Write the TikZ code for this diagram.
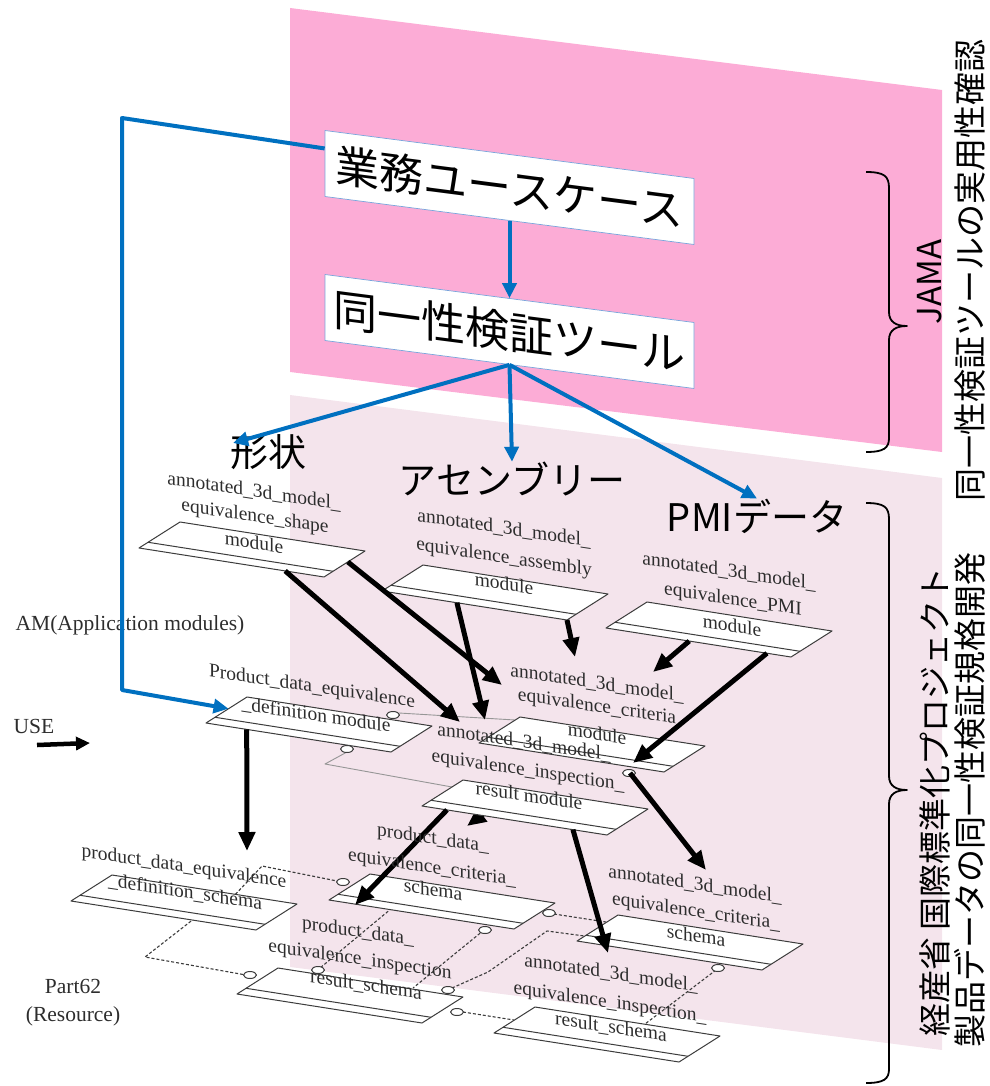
\documentclass[tikz,border=0pt]{standalone}
\usepackage{fontspec}
\usetikzlibrary{arrows.meta,calc}
\newfontfamily\jpfont{Noto Sans CJK JP}
\newfontfamily\tmsfont{Liberation Serif}
\definecolor{pinkA}{RGB}{252,172,214}
\definecolor{pinkB}{RGB}{244,228,236}
\definecolor{blueA}{RGB}{0,112,192}
\definecolor{boxedge}{RGB}{120,165,220}
\definecolor{txtgray}{RGB}{45,45,45}
\definecolor{lngray}{RGB}{60,60,60}
\definecolor{fgray}{RGB}{150,150,150}
\tikzset{
  slab/.style={draw=lngray,line width=1pt,fill=white},
  slabin/.style={draw=lngray,line width=1pt},
  dsh/.style={draw=lngray,line width=1.1pt,dash pattern=on 3pt off 2pt},
  faint/.style={draw=fgray,line width=0.9pt},
  ell/.style={draw=lngray,line width=1pt,fill=white},
  blk/.style={draw=black,line width=5pt,-{Triangle[length=19pt,width=16pt]}},
  blu/.style={draw=blueA,line width=4pt,-{Triangle[length=15pt,width=14pt]}},
  mt/.style={font=\tmsfont\fontsize{19.5}{22}\selectfont,text=txtgray,yslant=-0.15,anchor=base,inner sep=0pt},
  bbox/.style={draw=boxedge,line width=0.7pt,fill=white,minimum width=369pt,minimum height=66pt,inner sep=0pt,yslant=-0.13,font=\jpfont\fontsize{44}{44}\selectfont},
  jl/.style={font=\jpfont\fontsize{38}{38}\selectfont,inner sep=0pt},
  rt/.style={font=\jpfont\fontsize{33}{33}\selectfont,inner sep=0pt,rotate=90},
  serif/.style={font=\tmsfont\fontsize{21.5}{28}\selectfont,text=txtgray,inner sep=0pt,align=center},
  brc/.style={draw=black,line width=1.8pt}
}
\newcommand\slabbox[3]{%
  \path (#2,#3) coordinate (#1-tl) ++(185,29) coordinate (#1-tr) ++(-41,26) coordinate (#1-br) ++(-185,-29) coordinate (#1-bl);
  \draw[slab] (#1-tl) -- (#1-tr) -- (#1-br) -- (#1-bl) -- cycle;
  \draw[slabin] ($(#1-tl)!0.78!(#1-bl)$) -- ($(#1-tr)!0.78!(#1-br)$);
}
\begin{document}
\begin{tikzpicture}[x=1pt,y=-1pt,line join=round]
\useasboundingbox (0,0) rectangle (989,1086);
% planes
\fill[pinkA] (290,8) -- (942,90) -- (942,452) -- (290,372) -- cycle;
\fill[pinkB] (290,395) -- (942,478) -- (942,1050) -- (290,967) -- cycle;
% faint interface lines
\draw[faint] (399,713) -- (515,720);
\draw[faint] (347,752) -- (325,764) -- (452,787);
% dashed schema links
\draw[dsh] (232,898) -- (262,866) -- (337,881);
\draw[dsh] (195,918) -- (145,957) -- (246,975);
\draw[dsh] (392,908) -- (320,968);
\draw[dsh] (484,930) -- (413,988);
\draw[dsh] (554,914) -- (606,922);
\draw[dsh] (716,970) -- (645,1024);
\draw[dsh] (452,988) -- (488,972) -- (547,931) -- (592,937);
\draw[dsh] (463,1012) -- (514,1020);
% hidden small arrow
\coordinate (t9) at (467,826);
\draw[blk] (494,806) -- (t9);
% slabs
\slabbox{s1}{180}{522}
\slabbox{s2}{423}{565}
\slabbox{s3}{647}{602}
\slabbox{s4}{520}{717}
\slabbox{s5}{247}{697}
\slabbox{s6}{463}{780}
\slabbox{s7}{112}{875}
\slabbox{s8}{370}{874}
\slabbox{s9}{278}{968}
\slabbox{s10}{618}{915}
\slabbox{s11}{535}{1007}
% lollipop ellipses
\foreach \ex/\ey in {343/882,250/975,318/970,485/930,549/913,718/968,448/990,457/1012,393/715,347/749,629/773}
  \filldraw[ell] (\ex,\ey) ellipse [x radius=6.5, y radius=3.5];
% arrow tips
\coordinate (t1) at (502,685);
\coordinate (t2) at (460,722);
\coordinate (t3) at (485,720);
\coordinate (t4) at (575,657);
\coordinate (t5) at (653,672);
\coordinate (t6) at (633,763);
\coordinate (t7) at (247,851);
\coordinate (t8) at (355,905);
\coordinate (t10) at (608,953);
\coordinate (t11) at (706,870);
\coordinate (a11) at (630,773);
% black arrows
\draw[blk] ($(s1-tr)!0.42!(s1-br)$) -- (t1);
\draw[blk] ($(s1-bl)!0.79!(s1-br)$) -- (t2);
\draw[blk] ($(s2-bl)!0.405!(s2-br)$) -- (t3);
\draw[blk] (s2-br) -- (t4);
\draw[blk] ($(s3-bl)!0.45!(s3-br)$) -- (t5);
\draw[blk] ($(s3-bl)!0.87!(s3-br)$) -- (t6);
\draw[blk] ($(s5-bl)!0.22!(s5-br)$) -- (t7);
\draw[blk] ($(s6-bl)!0.135!(s6-br)$) -- (t8);
\draw[blk] ($(s6-bl)!0.816!(s6-br)$) -- (t10);
\draw[blk] (a11) -- (t11);
% module texts
\node[mt] (s1a) at (254,497) {annotated\_3d\_model\_};
\node[mt] (s1b) at (255,522) {equivalence\_shape};
\node[mt] (s1c) at (254,549) {module};
\node[mt] (s2a) at (504,534) {annotated\_3d\_model\_};
\node[mt] (s2b) at (504,563) {equivalence\_assembly};
\node[mt] (s2c) at (504,590) {module};
\node[mt] (s3a) at (729,577) {annotated\_3d\_model\_};
\node[mt] (s3b) at (733,605) {equivalence\_PMI};
\node[mt] (s3c) at (732,632) {module};
\node[mt] (s4a) at (597,689) {annotated\_3d\_model\_};
\node[mt] (s4b) at (597,712) {equivalence\_criteria};
\node[mt] (s4c) at (597,740) {module};
\node[mt] (s5a) at (312,692) {Product\_data\_equivalence};
\node[mt] (s5b) at (316,721) {\_definition module};
\node[mt] (s6a) at (524,748) {annotated\_3d\_model\_};
\node[mt] (s6b) at (528,776) {equivalence\_inspection\_};
\node[mt] (s6c) at (529,802) {result module};
\node[mt] (s7a) at (184,872) {product\_data\_equivalence};
\node[mt] (s7b) at (185,898) {\_definition\_schema};
\node[mt] (s8a) at (433,844) {product\_data\_};
\node[mt] (s8b) at (432,873) {equivalence\_criteria\_};
\node[mt] (s8c) at (433,896) {schema};
\node[mt] (s9a) at (358,937) {product\_data\_};
\node[mt] (s9b) at (360,965) {equivalence\_inspection};
\node[mt] (s9c) at (366,991) {result\_schema};
\node[mt] (s10a) at (695,890) {annotated\_3d\_model\_};
\node[mt] (s10b) at (696,917) {equivalence\_criteria\_};
\node[mt] (s10c) at (696,942) {schema};
\node[mt] (s11a) at (611,979) {annotated\_3d\_model\_};
\node[mt] (s11b) at (610,1008) {equivalence\_inspection\_};
\node[mt] (s11c) at (611,1033) {result\_schema};
% left serif labels
\node[serif] (am) at (130,625) {AM(Application modules)};
\node[serif] (use) at (34,726) {USE};
\node[serif] (part) at (73,1003) {Part62\\(Resource)};
\coordinate (useend) at (90,743);
\draw[draw=black,line width=4.5pt,-{Triangle[length=14pt,width=13pt]}] (37,745) -- (useend);
% blue boxes
\node[bbox] (b1) at (509.5,187.5) {業務ユースケース};
\node[bbox] (b2) at (509.5,331.5) {同一性検証ツール};
% big labels
\node[jl] (shape) at (268,452) {形状};
\node[jl] (asm) at (512,479) {アセンブリー};
\node[jl] (pmi) at (757,516) {PMIデータ};
% blue arrows
\coordinate (c1) at (122,118);
\coordinate (c2) at (122,690);
\coordinate (tshape) at (233,443);
\draw[blu] ($(b1.west)!0.45!(b1.north west)$) -- (c1) -- (c2) -- ($(s5-tl)!0.45!(s5-bl)$);
\draw[blu] (b1.south) -- (b2.north);
\draw[blu] (b2.south) -- (tshape);
\draw[blu] (b2.south) -- (asm.north);
\draw[blu] (b2.south) -- (pmi.north);
% braces
\draw[brc] (866,172) .. controls (884,172) and (889,176) .. (889,188) -- (889,312) .. controls (889,322) and (896,326) .. (907,326) .. controls (896,326) and (889,330) .. (889,340) -- (889,438) .. controls (889,448) and (884,452) .. (866,452);
\draw[brc] (866,503) .. controls (884,503) and (889,507) .. (889,519) -- (889,776) .. controls (889,786) and (896,790) .. (907,790) .. controls (896,790) and (889,794) .. (889,804) -- (889,1069) .. controls (889,1079) and (884,1083) .. (866,1083);
% right texts
\node[rt] (jama) at (930,282) {JAMA};
\node[rt] (rt1) at (970,270) {同一性検証ツールの実用性確認};
\node[rt] (rt2) at (935,802) {経産省 国際標準化プロジェクト};
\node[rt] (rt3) at (970,800) {製品データの同一性検証規格開発};
\end{tikzpicture}
\end{document}
